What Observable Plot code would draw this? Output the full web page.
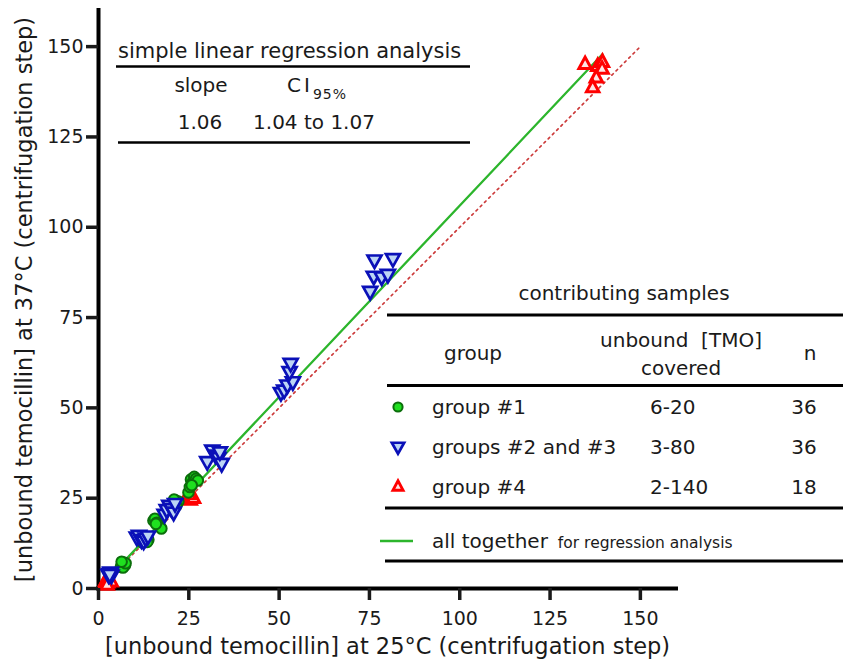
<!DOCTYPE html>
<html>
<head>
<meta charset="utf-8">
<script src="https://cdn.jsdelivr.net/npm/d3@7"></script>
<script src="https://cdn.jsdelivr.net/npm/@observablehq/plot@0.6"></script>
<style>
  body { margin: 0; background: #fff; }
  #chart { width: 843px; height: 668px; }
</style>
</head>
<body>
<div id="chart"></div>
<script>
// Unbound temocillin measured after centrifugation at 25 °C (x) vs 37 °C (y)

// group #1 (green circles)
const group1X = [6.2, 6.6, 7.0, 7.3, 6.8, 7.5, 6.4,
                 12.1, 12.6, 13.0, 13.4, 13.8, 12.9, 13.5,
                 15.2, 15.6, 16.1, 16.6, 17.1, 17.4, 15.9,
                 20.6, 21.0, 21.3, 21.7, 22.1, 21.5, 20.9,
                 24.9, 25.3, 25.6, 26.1, 26.5, 27.0, 27.5, 25.8];
const group1Y = [6.0, 6.8, 7.2, 6.4, 5.8, 7.0, 7.4,
                 12.8, 13.6, 13.2, 14.1, 13.5, 14.4, 12.9,
                 18.8, 19.3, 18.2, 17.6, 17.0, 16.6, 17.9,
                 23.2, 23.9, 24.4, 23.6, 24.1, 22.9, 24.6,
                 26.6, 28.1, 30.2, 29.4, 30.9, 30.4, 29.9, 28.6];

// groups #2 and #3 (blue down-pointing triangles)
const group23X = [3.0, 3.3, 3.6, 2.8, 3.4, 3.1,
                  10.6, 11.2, 11.9, 12.5, 13.1, 13.7,
                  18.3, 18.9, 19.6, 20.2, 20.8, 21.2,
                  30.1, 31.5, 32.4, 33.2, 34.1, 33.6,
                  50.5, 51.4, 52.3, 53.8, 52.9, 53.2,
                  76.4, 81.5, 76.2, 78.4, 80.1, 75.2];
const group23Y = [4.2, 4.6, 3.8, 3.9, 4.4, 4.0,
                  14.3, 14.8, 13.6, 13.2, 14.0, 14.6,
                  20.6, 21.9, 23.1, 22.2, 21.2, 23.6,
                  35.2, 38.4, 37.0, 36.3, 34.7, 37.9,
                  54.3, 55.0, 56.4, 57.3, 60.1, 62.4,
                  91.0, 91.4, 86.5, 86.3, 87.0, 82.3];

// group #4 (red triangles)
const group4X = [1.6, 2.1, 2.6, 3.0, 3.5, 2.4,
                 24.3, 24.9, 25.4, 25.8, 26.3, 25.1,
                 134.7, 138.2, 139.5, 139.4, 137.8, 136.8];
const group4Y = [1.2, 2.0, 1.5, 2.4, 1.8, 0.9,
                 24.8, 25.6, 24.4, 25.2, 24.9, 25.9,
                 145.0, 144.5, 145.6, 143.7, 141.3, 138.6];

// simple linear regression over all samples
const slope = 1.06;
const intercept = 0;
const ci95 = ["1.04", "1.07"];

// axes
const xTicks = [0, 25, 50, 75, 100, 125, 150];
const yTicks = [0, 25, 50, 75, 100, 125, 150];
const xLabel = "[unbound temocillin] at 25°C (centrifugation step)";
const yLabel = "[unbound temocillin] at 37°C (centrifugation step)";
const identityRange = [0, 150];

// contributing samples table
const groupNames = ["group #1", "groups #2 and #3", "group #4"];
const rangesCovered = ["6-20", "3-80", "2-140"];
const groupN = ["36", "36", "18"];

const FONT = "'DejaVu Sans', Verdana, sans-serif";

const toPoints = (xs, ys) => xs.map((x, i) => ({x, y: ys[i]}));
const pts1 = toPoints(group1X, group1Y);
const pts23 = toPoints(group23X, group23Y);
const pts4 = toPoints(group4X, group4Y);

const allX = [...group1X, ...group23X, ...group4X];
const regression = d3.extent(allX).map(x => ({x, y: slope * x + intercept}));
const identity = identityRange.map(v => ({x: v, y: v}));

// custom triangles sized from the dot radius
const triangleDown = {
  draw(ctx, size) {
    const r = Math.sqrt(size / Math.PI);
    const hw = r * 1.4, top = -r * 0.85, bottom = r * 1.65;
    ctx.moveTo(-hw, top); ctx.lineTo(hw, top); ctx.lineTo(0, bottom); ctx.closePath();
  }
};
const triangleUp = {
  draw(ctx, size) {
    const r = Math.sqrt(size / Math.PI);
    const hw = r * 1.35, top = -r * 1.65, bottom = r * 0.85;
    ctx.moveTo(-hw, bottom); ctx.lineTo(hw, bottom); ctx.lineTo(0, top); ctx.closePath();
  }
};

const GREEN_FILL = "#1fe01f", GREEN_STROKE = "#0b6e0b";
const BLUE_FILL = "#bcd5f5", BLUE_STROKE = "#0a10b8";
const RED_FILL = "#ffe4e4", RED_STROKE = "#ff0000";
const LINE_GREEN = "#2cb52c", LINE_RED = "#cc3a3a";

const chart = Plot.plot({
  width: 843,
  height: 668,
  marginLeft: 98,
  marginRight: 167,
  marginTop: 10,
  marginBottom: 80,
  style: {fontFamily: FONT, fontSize: "19px", color: "#1a1a1a", background: "#fff", overflow: "visible"},
  x: {domain: [0, 160], label: null},
  y: {domain: [0, 160], label: null},
  marks: [
    Plot.line(identity, {x: "x", y: "y", stroke: LINE_RED, strokeWidth: 1.7, strokeDasharray: "2,4"}),
    Plot.line(regression, {x: "x", y: "y", stroke: LINE_GREEN, strokeWidth: 2.3}),
    Plot.ruleX([0], {stroke: "#000", strokeWidth: 4, strokeLinecap: "square"}),
    Plot.ruleY([0], {stroke: "#000", strokeWidth: 4, strokeLinecap: "square"}),
    Plot.dot(pts4, {x: "x", y: "y", symbol: triangleUp, r: 4.6, fill: RED_FILL, stroke: RED_STROKE, strokeWidth: 3}),
    Plot.dot(pts1, {x: "x", y: "y", symbol: "circle", r: 5.3, fill: GREEN_FILL, stroke: GREEN_STROKE, strokeWidth: 2}),
    Plot.dot(pts23, {x: "x", y: "y", symbol: triangleDown, r: 5, fill: BLUE_FILL, stroke: BLUE_STROKE, strokeWidth: 2.7}),
    Plot.axisX({ticks: xTicks, tickSize: 12, tickPadding: 11, strokeWidth: 3.5, fontSize: 19, label: null}),
    Plot.axisY({ticks: yTicks, tickSize: 12, tickPadding: 3, strokeWidth: 3.5, fontSize: 19, label: null}),
    Plot.text([xLabel], {text: d => d, frameAnchor: "bottom", dy: 65, fontSize: 22.5}),
    Plot.text([yLabel], {text: d => d, frameAnchor: "left", textAnchor: "middle", dx: -74, rotate: -90, fontSize: 22.5})
  ]
});

document.getElementById("chart").appendChild(chart);

// annotation tables drawn on top of the plot
const svg = d3.select(chart);
const ann = svg.append("g").attr("font-family", FONT).attr("fill", "#1a1a1a");

function label(x, y, s, size = 20, anchor = "start") {
  return ann.append("text").attr("x", x).attr("y", y).attr("font-size", size)
    .attr("text-anchor", anchor).text(s);
}
function hline(x1, x2, y, w = 3) {
  ann.append("line").attr("x1", x1).attr("x2", x2).attr("y1", y).attr("y2", y)
    .attr("stroke", "#000").attr("stroke-width", w);
}

// regression summary
label(118, 58, "simple linear regression analysis", 21);
hline(116, 470, 66.5, 2.6);
label(201, 92, "slope", 20, "middle");
const ci = label(287, 92, "", 20);
ci.append("tspan").attr("letter-spacing", 3).text("CI");
ci.append("tspan").attr("font-size", 14).attr("dy", 7).attr("letter-spacing", 1).text("95%");
label(200, 129, slope.toFixed(2), 20, "middle");
label(314, 129, `${ci95[0]} to ${ci95[1]}`, 20, "middle");
hline(118, 470, 142.5, 2.6);

// contributing samples
label(624, 300, "contributing samples", 20, "middle");
hline(387, 843, 315);
label(473, 360, "group", 20, "middle");
label(681, 347, "unbound  [TMO]", 20, "middle").attr("xml:space", "preserve").style("white-space", "pre");
label(681, 375, "covered", 20, "middle");
label(810, 360, "n", 20, "middle");
hline(387, 843, 385.5);

const rowY = [414, 453.5, 494];
groupNames.forEach((name, i) => {
  label(432, rowY[i], name, 20);
  label(650, rowY[i], rangesCovered[i], 20);
  label(804, rowY[i], groupN[i], 20, "middle");
});
const symY = rowY.map(y => y - 7);
ann.append("path").attr("d", d3.symbol(d3.symbolCircle, Math.PI * 4.6 * 4.6)())
  .attr("transform", `translate(398,${symY[0]})`)
  .attr("fill", GREEN_FILL).attr("stroke", GREEN_STROKE).attr("stroke-width", 2);
ann.append("path").attr("d", d3.symbol(triangleDown, Math.PI * 4.4 * 4.4)())
  .attr("transform", `translate(398,${symY[1]})`)
  .attr("fill", BLUE_FILL).attr("stroke", BLUE_STROKE).attr("stroke-width", 2.7);
ann.append("path").attr("d", d3.symbol(triangleUp, Math.PI * 3.8 * 3.8)())
  .attr("transform", `translate(398,${symY[2]})`)
  .attr("fill", RED_FILL).attr("stroke", RED_STROKE).attr("stroke-width", 2.8);
hline(385, 843, 508);

ann.append("line").attr("x1", 380).attr("x2", 413).attr("y1", 541).attr("y2", 541)
  .attr("stroke", LINE_GREEN).attr("stroke-width", 2.6);
const tog = label(432, 548, "all together", 20);
tog.append("tspan").attr("font-size", 15.5).attr("dx", 10).text("for regression analysis");
hline(385, 843, 561);
</script>
</body>
</html>
